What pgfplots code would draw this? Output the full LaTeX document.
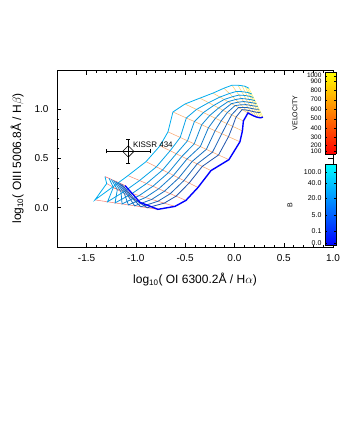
\documentclass[border=0pt]{standalone}
\usepackage{fontspec}
\setmainfont{Liberation Sans}
\usepackage{pgfplots}
\usepackage{pgfplotstable}
\pgfplotsset{compat=1.18}
\pgfplotsset{
  colormap={velmap}{rgb255=(255,0,0) rgb255=(255,255,0)},
  colormap={bmap}{rgb255=(0,0,255) rgb255=(0,255,255)},
}
% one velocity line (all B at fixed v), one magnetic-field line (all v at fixed B)
\newcommand{\velline}[2]{\addplot[draw=yellow!#2!red, line width=0.55pt, opacity=0.6,
  restrict expr to domain={\thisrow{j}}{#1:#1}] table[x=x, y=y] {\shockgridv};}
\newcommand{\bcurve}[3]{\addplot[draw=#2, line width=#3,
  restrict expr to domain={\thisrow{k}}{#1:#1}] table[x=x, y=y] {\shockgrid};}

% k = B index (0 = 100, 8 = 0.0), j = velocity index (0 = 100 km/s ... 18 = 1000 km/s)
\pgfplotstableread{
k j x y
0 0 -1.313 0.316
0 1 -1.296 0.245
0 2 -1.415 0.079
0 3 -1.242 0.205
0 4 -1.080 0.326
0 5 -0.897 0.468
0 6 -0.755 0.629
0 7 -0.674 0.771
0 8 -0.624 0.973
0 9 -0.502 1.054
0 10 -0.350 1.114
0 11 -0.218 1.165
0 12 -0.106 1.215
0 13 -0.025 1.245
0 14 0.036 1.245
0 15 0.076 1.240
0 16 0.107 1.235
0 17 0.127 1.225
0 18 0.147 1.215
1 0 -1.272 0.298
1 1 -1.228 0.207
1 2 -1.287 0.060
1 3 -1.114 0.167
1 4 -0.962 0.276
1 5 -0.792 0.415
1 6 -0.652 0.579
1 7 -0.550 0.714
1 8 -0.488 0.912
1 9 -0.385 0.999
1 10 -0.262 1.068
1 11 -0.147 1.125
1 12 -0.051 1.161
1 13 0.020 1.182
1 14 0.073 1.180
1 15 0.110 1.175
1 16 0.138 1.171
1 17 0.157 1.163
1 18 0.175 1.156
2 0 -1.248 0.287
2 1 -1.188 0.184
2 2 -1.211 0.048
2 3 -1.038 0.144
2 4 -0.892 0.245
2 5 -0.728 0.384
2 6 -0.590 0.548
2 7 -0.476 0.680
2 8 -0.406 0.876
2 9 -0.315 0.967
2 10 -0.209 1.040
2 11 -0.104 1.100
2 12 -0.018 1.129
2 13 0.046 1.145
2 14 0.096 1.142
2 15 0.130 1.137
2 16 0.157 1.132
2 17 0.176 1.126
2 18 0.192 1.121
3 0 -1.226 0.277
3 1 -1.151 0.163
3 2 -1.140 0.038
3 3 -0.967 0.122
3 4 -0.827 0.218
3 5 -0.670 0.355
3 6 -0.533 0.521
3 7 -0.408 0.649
3 8 -0.332 0.843
3 9 -0.251 0.937
3 10 -0.160 1.014
3 11 -0.065 1.078
3 12 0.012 1.100
3 13 0.071 1.110
3 14 0.116 1.106
3 15 0.148 1.101
3 16 0.175 1.097
3 17 0.192 1.093
3 18 0.208 1.089
4 0 -1.205 0.268
4 1 -1.117 0.144
4 2 -1.076 0.028
4 3 -0.903 0.103
4 4 -0.768 0.192
4 5 -0.618 0.329
4 6 -0.481 0.495
4 7 -0.346 0.621
4 8 -0.264 0.812
4 9 -0.193 0.909
4 10 -0.116 0.991
4 11 -0.030 1.058
4 12 0.039 1.073
4 13 0.093 1.079
4 14 0.135 1.074
4 15 0.165 1.069
4 16 0.190 1.065
4 17 0.208 1.062
4 18 0.222 1.060
5 0 -1.185 0.259
5 1 -1.083 0.125
5 2 -1.012 0.019
5 3 -0.839 0.084
5 4 -0.710 0.167
5 5 -0.565 0.302
5 6 -0.429 0.470
5 7 -0.285 0.593
5 8 -0.196 0.782
5 9 -0.135 0.882
5 10 -0.072 0.968
5 11 0.006 1.038
5 12 0.067 1.046
5 13 0.115 1.048
5 14 0.154 1.042
5 15 0.182 1.037
5 16 0.206 1.033
5 17 0.223 1.031
5 18 0.236 1.030
6 0 -1.165 0.250
6 1 -1.049 0.106
6 2 -0.949 0.009
6 3 -0.776 0.065
6 4 -0.651 0.142
6 5 -0.512 0.276
6 6 -0.378 0.445
6 7 -0.223 0.564
6 8 -0.128 0.752
6 9 -0.076 0.855
6 10 -0.028 0.945
6 11 0.041 1.018
6 12 0.094 1.019
6 13 0.138 1.017
6 14 0.173 1.009
6 15 0.199 1.004
6 16 0.222 1.001
6 17 0.238 1.000
6 18 0.251 1.001
7 0 -1.145 0.240
7 1 -1.015 0.086
7 2 -0.885 -0.001
7 3 -0.712 0.046
7 4 -0.592 0.117
7 5 -0.460 0.250
7 6 -0.326 0.420
7 7 -0.161 0.536
7 8 -0.060 0.722
7 9 -0.018 0.827
7 10 0.016 0.921
7 11 0.077 0.997
7 12 0.121 0.993
7 13 0.160 0.985
7 14 0.191 0.977
7 15 0.215 0.972
7 16 0.237 0.969
7 17 0.253 0.969
7 18 0.265 0.972
8 0 -1.110 0.225
8 1 -0.958 0.054
8 2 -0.776 -0.017
8 3 -0.603 0.013
8 4 -0.492 0.074
8 5 -0.370 0.205
8 6 -0.238 0.377
8 7 -0.056 0.488
8 8 0.056 0.670
8 9 0.081 0.781
8 10 0.091 0.882
8 11 0.137 0.963
8 12 0.168 0.947
8 13 0.198 0.932
8 14 0.223 0.922
8 15 0.244 0.917
8 16 0.264 0.914
8 17 0.279 0.917
8 18 0.289 0.922
}\shockgrid
% same grid, ordered by velocity so that each velocity line is one block
\pgfplotstablecreatecol[expr={\thisrow{j}*100+\thisrow{k}}]{jk}{\shockgrid}
\pgfplotstablesort[sort key=jk]{\shockgridv}{\shockgrid}

\begin{document}%
\begin{tikzpicture}
\useasboundingbox (0,0) rectangle (350pt,424pt);
\begin{axis}[
    at={(57pt,177pt)}, anchor=south west, scale only axis,
    width=276pt, height=177pt,
    xmin=-1.8, xmax=1.0, ymin=-0.4, ymax=1.4,
    xtick={-1.5,-1.0,-0.5,0.0,0.5,1.0},
    ytick={0.0,0.5,1.0},
    minor tick num=4,
    major tick length=4.5pt, minor tick length=2.5pt,
    tick style={black, line width=0.4pt},
    /pgf/number format/assume math mode=true,
    ticklabel style={font=\fontsize{10}{12}\selectfont},
    xticklabel style={yshift=-4pt, /pgf/number format/.cd, fixed, fixed zerofill, precision=1},
    yticklabel style={xshift=-5pt, /pgf/number format/.cd, fixed, fixed zerofill, precision=1},
    label style={font=\fontsize{12}{14}\selectfont},
    xlabel={log\textsubscript{10}( OI 6300.2Å / H$\alpha$)},
    ylabel={log\textsubscript{10}( OIII 5006.8Å / H$\beta$)},
    xlabel style={yshift=-5pt},
    ylabel style={yshift=4pt},
  ]
  \velline{0}{0}
  \velline{1}{6}
  \velline{2}{11}
  \velline{3}{17}
  \velline{4}{22}
  \velline{5}{28}
  \velline{6}{33}
  \velline{7}{39}
  \velline{8}{44}
  \velline{9}{50}
  \velline{10}{56}
  \velline{11}{61}
  \velline{12}{67}
  \velline{13}{72}
  \velline{14}{78}
  \velline{15}{83}
  \velline{16}{89}
  \velline{17}{94}
  \velline{18}{100}
  \bcurve{0}{cyan}{0.8pt}
  \bcurve{1}{cyan!90!blue}{0.8pt}
  \bcurve{2}{cyan!80!blue}{0.8pt}
  \bcurve{3}{cyan!70!blue}{0.8pt}
  \bcurve{4}{cyan!60!blue}{0.8pt}
  \bcurve{5}{cyan!50!blue}{0.8pt}
  \bcurve{6}{cyan!40!blue}{0.8pt}
  \bcurve{7}{cyan!28!blue}{0.8pt}
  \bcurve{8}{blue}{1.4pt}
  % KISSR 434
  \addplot[black, line width=0.5pt, mark=square, mark size=4pt,
    mark options={rotate=45, line width=0.6pt},
    error bars/.cd, x dir=both, x explicit, y dir=both, y explicit,
    error bar style={line width=0.5pt, black},
    error mark options={rotate=90, mark size=2pt, black}]
    coordinates {(-1.077,0.572) +- (0.22,0.123)};
  \node[anchor=west, inner sep=0pt, font=\fontsize{8}{9}\selectfont] at (axis cs:-1.03,0.64) {KISSR 434};
\end{axis}

% velocity colour bar
\begin{axis}[
    at={(325pt,270pt)}, anchor=south west, scale only axis,
    width=11pt, height=82pt, view={0}{90},
    xmin=0, xmax=1, ymin=0, ymax=1, enlargelimits=false,
    xtick=\empty, ztick=\empty,
    ytick={0.035,0.105,0.207,0.317,0.430,0.545,0.662,0.777,0.888,0.955},
    yticklabels={100,200,300,400,500,600,700,800,900,1000},
    ticklabel style={font=\fontsize{6.5}{7}\selectfont},
    major tick length=2pt, tick style={black},
    colormap name=velmap, point meta min=0, point meta max=1, axis on top,
  ]
  \addplot3[surf, shader=interp, point meta=y] coordinates {(0,0,0) (1,0,0)

    (0,1,0) (1,1,0)};
\end{axis}

% magnetic field colour bar
\begin{axis}[
    at={(325pt,178.3pt)}, anchor=south west, scale only axis,
    width=11pt, height=81.4pt, view={0}{90},
    xmin=0, xmax=1, ymin=0, ymax=1, enlargelimits=false,
    xtick=\empty, ztick=\empty,
    ytick={0.03,0.18,0.375,0.59,0.77,0.91},
    yticklabels={0.0,0.1,5.0,20.0,40.0,100.0},
    ticklabel style={font=\fontsize{7}{8}\selectfont},
    major tick length=2pt, tick style={black},
    colormap name=bmap, point meta min=0, point meta max=1, axis on top,
  ]
  \addplot3[surf, shader=interp, point meta=y] coordinates {(0,0,0) (1,0,0)

    (0,1,0) (1,1,0)};
\end{axis}

\node[rotate=90, font=\fontsize{7}{8}\selectfont] at (295pt,311pt) {VELOCITY};
\node[rotate=90, font=\fontsize{7}{8}\selectfont] at (290pt,219pt) {B};
\end{tikzpicture}%
\end{document}
